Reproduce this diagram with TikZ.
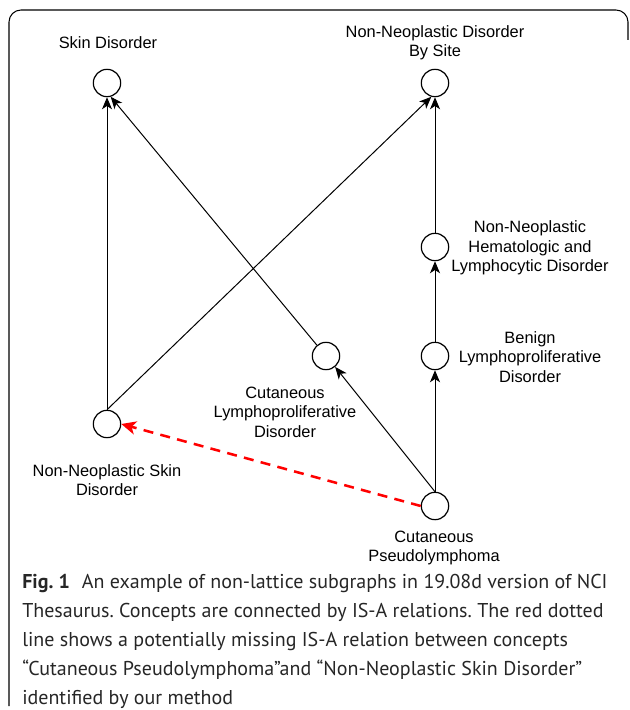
\documentclass[tikz,border=0pt]{standalone}
\usepackage{fontspec}
\setmainfont{Liberation Sans}
\newfontfamily\capfont{PT Sans}
\usetikzlibrary{arrows.meta}
\begin{document}
\frenchspacing
\begin{tikzpicture}[x=0.75pt,y=-0.75pt,
  concept/.style={circle,draw=black,line width=0.9pt,minimum size=20.5pt,inner sep=0pt,fill=white},
  lbl/.style={align=center,inner sep=0pt,font=\fontsize{12.3}{14.6}\selectfont},
  isa/.style={line width=0.75pt,-{Stealth[length=9pt,width=7.5pt,inset=2.5pt]}},
  missing/.style={draw=red,line width=1.9pt,dash pattern=on 7.5pt off 5.5pt,-{Stealth[length=11pt,width=10pt,inset=3pt]}},
  capline/.style={anchor=base west,inner sep=0pt,text=black!85,font=\capfont\fontsize{15}{17}\selectfont}]
\useasboundingbox (0,0) rectangle (630,710);
% frame
\draw[line width=0.8pt,rounded corners=9pt] (9,706) -- (9,10) -- (628,10) -- (628,40);
% concepts
\node[concept] (sd) at (107,83) {};
\node[concept] (bs) at (435,83) {};
\node[concept] (hem) at (435,247) {};
\node[concept] (ben) at (435,356) {};
\node[concept] (cl) at (326,356) {};
\node[concept] (nnsd) at (107,424) {};
\node[concept] (cp) at (435,506) {};
% labels
\node[lbl] (sdl) at (108,43) {Skin Disorder};
\node[lbl] (bsl) at (435,43) {Non-Neoplastic Disorder\\By Site};
\node[lbl] (heml) at (530,248) {Non-Neoplastic\\Hematologic and\\Lymphocytic Disorder};
\node[lbl] (benl) at (530,357) {Benign\\Lymphoproliferative\\Disorder};
\node[lbl] (cll) at (285,412) {Cutaneous\\Lymphoproliferative\\Disorder};
\node[lbl] (nnsdl) at (107,480) {Non-Neoplastic Skin\\Disorder};
\node[lbl] (cpl) at (434,548) {Cutaneous\\Pseudolymphoma};
% edges
\draw[isa] (nnsd.north) -- (sd.south);
\draw[isa] (cl.130) -- (sd.-75);
\draw[isa] (nnsd.north) -- (bs.-105);
\draw[isa] (hem.north) -- (bs.south);
\draw[isa] (ben.north) -- (hem.south);
\draw[isa] (cp.north) -- (ben.south);
\draw[isa] (cp.north) -- (cl.-50);
\draw[missing] (cp.west) -- (nnsd.east);
% caption
\node[capline] (cap1) at (22,588) {{\bfseries Fig. 1}\hspace{0.6em}An example of non-lattice subgraphs in 19.08d version of NCI};
\node[capline] (cap2) at (22,617) {Thesaurus. Concepts are connected by IS-A relations. The red dotted};
\node[capline] (cap3) at (22,646) {line shows a potentially missing IS-A relation between concepts};
\node[capline] (cap4) at (22,675) {“Cutaneous Pseudolymphoma”and “Non-Neoplastic Skin Disorder”};
\node[capline] (cap5) at (22,704) {identified by our method};
\end{tikzpicture}
\end{document}
